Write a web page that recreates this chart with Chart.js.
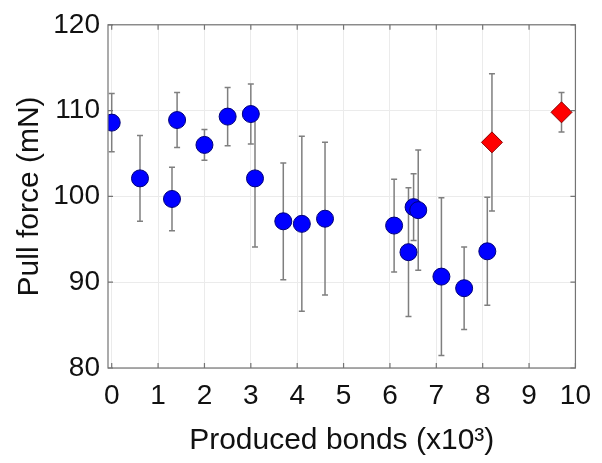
<!DOCTYPE html>
<html>
<head>
<meta charset="utf-8">
<script src="https://cdn.jsdelivr.net/npm/chart.js@4"></script>
<style>
  html, body { margin: 0; padding: 0; background: #fff; }
  #wrap { width: 602px; height: 463px; }
</style>
</head>
<body>
<div id="wrap"><canvas id="grafica" width="602" height="463"></canvas></div>
<script>
// datos
const bonosAzul = [0, 0.61, 1.30, 1.41, 2.0, 2.5, 3.0, 3.09, 3.70, 4.10, 4.60, 6.09, 6.40, 6.51, 6.61, 7.11, 7.60, 8.10];
const fuerzaAzul = [108.6, 102.1, 99.7, 108.9, 106.0, 109.3, 109.6, 102.1, 97.1, 96.8, 97.4, 96.6, 93.5, 98.75, 98.4, 90.65, 89.3, 93.6];
const errorAzul = [3.4, 5.0, 3.7, 3.2, 1.8, 3.4, 3.5, 8.0, 6.8, 10.2, 8.9, 5.4, 7.5, 3.9, 7.0, 9.2, 4.8, 6.3];

const bonosRojo = [8.20, 9.70];
const fuerzaRojo = [106.3, 109.8];
const errorRojo = [8.0, 2.3];

const ticksX = [0, 1, 2, 3, 4, 5, 6, 7, 8, 9, 10];
const ticksY = [80, 90, 100, 110, 120];

const fuente = "'Liberation Sans', Arial, sans-serif";

// barras de error dibujadas con las escalas del grafico
const barrasError = {
  id: "barrasError",
  beforeDatasetsDraw(chart) {
    const { ctx, scales: { x, y } } = chart;
    ctx.save();
    ctx.strokeStyle = "#7f7f7f";
    ctx.lineWidth = 1.5;
    chart.data.datasets.forEach(ds => {
      ds.data.forEach(p => {
        const px = x.getPixelForValue(p.x);
        const top = y.getPixelForValue(p.y + p.err);
        const bot = y.getPixelForValue(p.y - p.err);
        ctx.beginPath();
        ctx.moveTo(px, top); ctx.lineTo(px, bot);
        ctx.moveTo(px - 3, top); ctx.lineTo(px + 3, top);
        ctx.moveTo(px - 3, bot); ctx.lineTo(px + 3, bot);
        ctx.stroke();
      });
    });
    ctx.restore();
  },
  afterDraw(chart) {
    // caja y marcas hacia dentro, estilo matlab
    const { ctx, chartArea: a, scales: { x, y } } = chart;
    ctx.save();
    ctx.strokeStyle = "#747474";
    ctx.lineWidth = 1.2;
    ctx.strokeRect(a.left, a.top, a.right - a.left, a.bottom - a.top);
    ctx.beginPath();
    ticksX.forEach(v => {
      const px = x.getPixelForValue(v);
      ctx.moveTo(px, a.bottom); ctx.lineTo(px, a.bottom - 5);
      ctx.moveTo(px, a.top); ctx.lineTo(px, a.top + 5);
    });
    ticksY.forEach(v => {
      const py = y.getPixelForValue(v);
      ctx.moveTo(a.left, py); ctx.lineTo(a.left + 5, py);
      ctx.moveTo(a.right, py); ctx.lineTo(a.right - 5, py);
    });
    ctx.stroke();
    ctx.restore();
  }
};

const ctx = document.getElementById("grafica").getContext("2d");
new Chart(ctx, {
  type: "scatter",
  data: {
    datasets: [
      {
        label: "azul",
        data: bonosAzul.map((b, i) => ({ x: b, y: fuerzaAzul[i], err: errorAzul[i] })),
        pointStyle: "circle",
        pointRadius: 8.5,
        backgroundColor: "#0000ff",
        borderColor: "#00007a",
        borderWidth: 1,
      },
      {
        label: "rojo",
        data: bonosRojo.map((b, i) => ({ x: b, y: fuerzaRojo[i], err: errorRojo[i] })),
        pointStyle: "rectRot",
        pointRadius: 10.5,
        backgroundColor: "#ff0000",
        borderColor: "#8a0000",
        borderWidth: 1,
      },
    ],
  },
  options: {
    responsive: false,
    animation: false,
    layout: { padding: { top: 20, right: 19, left: 0, bottom: 0 } },
    plugins: { legend: { display: false }, tooltip: { enabled: false } },
    scales: {
      x: {
        type: "linear",
        min: -0.08,
        max: 10,
        afterBuildTicks: s => { s.ticks = ticksX.map(v => ({ value: v })); },
        afterFit: s => { s.height = 95; },
        border: { display: false },
        grid: { color: "#ebebeb", lineWidth: 1, drawTicks: false },
        ticks: { color: "#111", font: { family: fuente, size: 28 }, padding: 11, maxRotation: 0, autoSkip: false },
        title: { display: true, text: "Produced bonds (x10\u00b3)", color: "#111", font: { family: fuente, size: 30 }, padding: { top: 0 } },
      },
      y: {
        min: 80,
        max: 120,
        afterBuildTicks: s => { s.ticks = ticksY.map(v => ({ value: v })); },
        afterFit: s => { s.width = 108; },
        border: { display: false },
        grid: { color: "#ebebeb", lineWidth: 1, drawTicks: false },
        ticks: { color: "#111", font: { family: fuente, size: 28 }, padding: 8 },
        title: { display: true, text: "Pull force (mN)", color: "#111", font: { family: fuente, size: 30 }, padding: { bottom: 0, top: 12 } },
      },
    },
  },
  plugins: [barrasError],
});
</script>
</body>
</html>
